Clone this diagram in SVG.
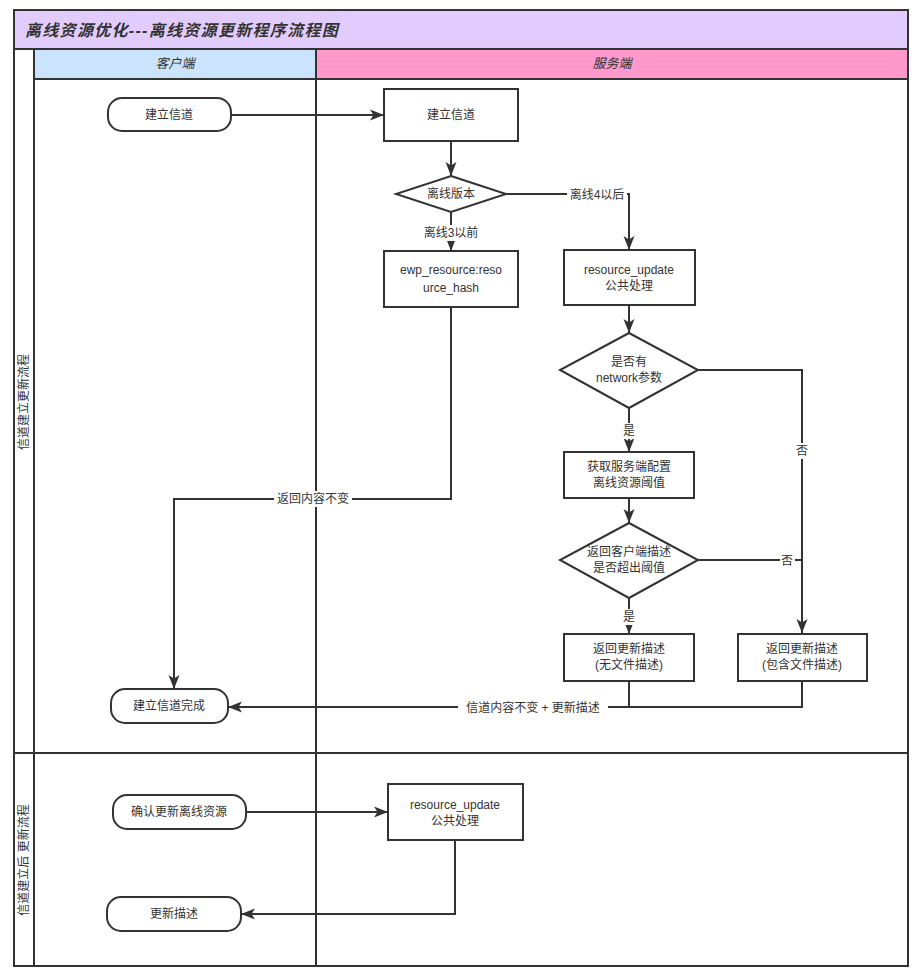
<svg xmlns="http://www.w3.org/2000/svg" width="919" height="974" viewBox="0 0 919 974">
  <style>
    text { font-family: "Liberation Sans", "Noto Sans CJK SC", sans-serif; font-size: 12px; fill: #333; }
    .node { fill: #fff; stroke: #333; stroke-width: 2; }
    .lane { fill: none; stroke: #333; stroke-width: 2; }
    .edge { fill: none; stroke: #333; stroke-width: 2; }
    .lbl { text-anchor: middle; }
    .hdr { font-style: italic; text-anchor: middle; font-size: 13px; }
    .bg { fill: #fff; }
  </style>
  <defs>
    <marker id="arrow" markerUnits="userSpaceOnUse" markerWidth="15" markerHeight="12" refX="14" refY="6" orient="auto">
      <path d="M0,0.5 L14,6 L0,11.5 L3.5,6 z" fill="#333"/>
    </marker>
  </defs>

  <rect width="919" height="974" fill="#fff"/>

  <!-- pool and lanes -->
  <g id="pool">
    <rect x="14" y="10" width="894" height="39" fill="#e2ccfd"/>
    <rect x="34" y="49" width="282" height="30" fill="#c9e4fc"/>
    <rect x="316" y="49" width="592" height="30" fill="#ff99cc"/>
    <rect x="14" y="10" width="894" height="956" class="lane"/>
    <line x1="14" y1="49" x2="908" y2="49" class="lane"/>
    <line x1="34" y1="79" x2="908" y2="79" class="lane"/>
    <line x1="34" y1="49" x2="34" y2="966" class="lane"/>
    <line x1="316" y1="49" x2="316" y2="966" class="lane"/>
    <line x1="14" y1="753" x2="908" y2="753" class="lane"/>
    <text x="25" y="36" style="font-size:16px;font-style:italic;font-weight:bold;letter-spacing:1.3px">离线资源优化---离线资源更新程序流程图</text>
    <text x="175" y="68" class="hdr">客户端</text>
    <text x="612" y="68" class="hdr">服务端</text>
    <text class="lbl" transform="translate(28,402) rotate(-90)">信道建立更新流程</text>
    <text class="lbl" transform="translate(28,860) rotate(-90)">信道建立后 更新流程</text>
  </g>

  <!-- connectors -->
  <g id="connectors">
    <path d="M231,115 H384" class="edge" marker-end="url(#arrow)"/>
    <path d="M451,141 V176" class="edge" marker-end="url(#arrow)"/>
    <path d="M451,212 V251" class="edge" marker-end="url(#arrow)"/>
    <path d="M506,194 H629 V250" class="edge" marker-end="url(#arrow)"/>
    <path d="M629,305 V333" class="edge" marker-end="url(#arrow)"/>
    <path d="M629,408 V452" class="edge" marker-end="url(#arrow)"/>
    <path d="M629,498 V523" class="edge" marker-end="url(#arrow)"/>
    <path d="M629,598 V634" class="edge" marker-end="url(#arrow)"/>
    <path d="M698,370 H802 V633" class="edge" marker-end="url(#arrow)"/>
    <path d="M698,560 H802" class="edge"/>
    <path d="M451,307 V499 H174 V689" class="edge" marker-end="url(#arrow)"/>
    <path d="M629,681 V707 H228" class="edge" marker-end="url(#arrow)"/>
    <path d="M802,681 V707 H629" class="edge"/>
    <path d="M246,812 H388" class="edge" marker-end="url(#arrow)"/>
    <path d="M455,840 V914 H241" class="edge" marker-end="url(#arrow)"/>

    <!-- connector labels -->
    <rect x="423" y="225" width="56" height="16" class="bg"/>
    <text x="451" y="237" class="lbl">离线3以前</text>
    <rect x="567" y="187" width="60" height="16" class="bg"/>
    <text x="597" y="199" class="lbl">离线4以后</text>
    <rect x="621" y="423" width="16" height="16" class="bg"/>
    <text x="629" y="435" class="lbl">是</text>
    <rect x="621" y="609" width="16" height="16" class="bg"/>
    <text x="629" y="621" class="lbl">是</text>
    <rect x="794" y="443" width="16" height="16" class="bg"/>
    <text x="802" y="455" class="lbl">否</text>
    <rect x="780" y="553" width="15" height="16" class="bg"/>
    <text x="787" y="565" class="lbl">否</text>
    <rect x="274" y="491" width="78" height="16" class="bg"/>
    <text x="313" y="503" class="lbl">返回内容不变</text>
    <rect x="458" y="700" width="150" height="16" class="bg"/>
    <text x="533" y="712" class="lbl">信道内容不变 + 更新描述</text>
  </g>

  <!-- client lane -->
  <g id="client-open">
    <rect x="108" y="98" width="123" height="33" rx="14" class="node"/>
    <text x="169" y="119" class="lbl">建立信道</text>
  </g>
  <g id="client-done">
    <rect x="111" y="689" width="117" height="34" rx="14" class="node"/>
    <text x="169" y="710" class="lbl">建立信道完成</text>
  </g>
  <g id="client-confirm">
    <rect x="113" y="795" width="133" height="34" rx="14" class="node"/>
    <text x="179" y="816" class="lbl">确认更新离线资源</text>
  </g>
  <g id="client-desc">
    <rect x="107" y="897" width="134" height="34" rx="14" class="node"/>
    <text x="174" y="918" class="lbl">更新描述</text>
  </g>

  <!-- server lane -->
  <g id="server-open">
    <rect x="384" y="89" width="134" height="52" class="node"/>
    <text x="451" y="119" class="lbl">建立信道</text>
  </g>
  <g id="version-check">
    <polygon points="451,176 506,194 451,212 396,194" class="node"/>
    <text x="451" y="198" class="lbl">离线版本</text>
  </g>
  <g id="ewp-hash">
    <rect x="384" y="251" width="134" height="56" class="node"/>
    <text x="451" y="274" class="lbl">ewp_resource:reso</text>
    <text x="451" y="292" class="lbl">urce_hash</text>
  </g>
  <g id="resource-update">
    <rect x="564" y="250" width="131" height="55" class="node"/>
    <text x="629" y="274" class="lbl">resource_update</text>
    <text x="629" y="290" class="lbl">公共处理</text>
  </g>
  <g id="network-check">
    <polygon points="629,333 698,370 629,408 560,370" class="node"/>
    <text x="629" y="366" class="lbl">是否有</text>
    <text x="629" y="382" class="lbl">network参数</text>
  </g>
  <g id="threshold-config">
    <rect x="564" y="452" width="130" height="46" class="node"/>
    <text x="629" y="471" class="lbl">获取服务端配置</text>
    <text x="629" y="487" class="lbl">离线资源阈值</text>
  </g>
  <g id="threshold-check">
    <polygon points="629,523 698,560 629,598 560,560" class="node"/>
    <text x="629" y="556" class="lbl">返回客户端描述</text>
    <text x="629" y="572" class="lbl">是否超出阈值</text>
  </g>
  <g id="desc-no-files">
    <rect x="564" y="634" width="130" height="47" class="node"/>
    <text x="629" y="653" class="lbl">返回更新描述</text>
    <text x="629" y="669" class="lbl">(无文件描述)</text>
  </g>
  <g id="desc-with-files">
    <rect x="738" y="634" width="129" height="47" class="node"/>
    <text x="802" y="653" class="lbl">返回更新描述</text>
    <text x="802" y="669" class="lbl">(包含文件描述)</text>
  </g>
  <g id="resource-update-2">
    <rect x="388" y="784" width="135" height="56" class="node"/>
    <text x="455" y="809" class="lbl">resource_update</text>
    <text x="455" y="825" class="lbl">公共处理</text>
  </g>
</svg>
